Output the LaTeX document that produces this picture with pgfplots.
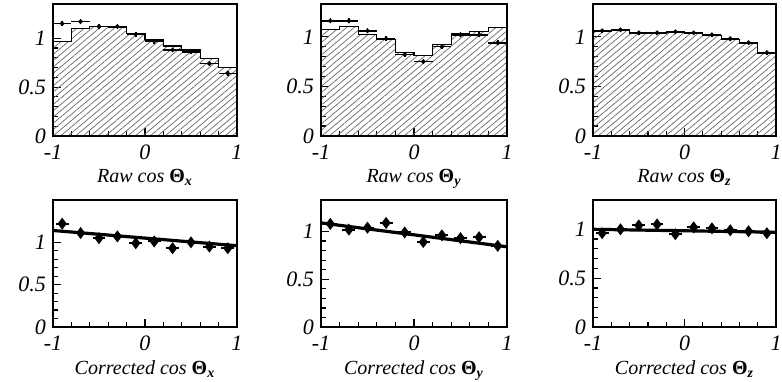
\documentclass[border=0pt]{standalone}
\usepackage{fontspec}
\setmainfont{Liberation Serif}
\usepackage{pgfplots}
\pgfplotsset{compat=1.18}
\usetikzlibrary{patterns,patterns.meta}
\pgfplotsset{
  panel/.style={
    scale only axis, anchor=south west,
    xmin=-1, xmax=1, ymin=0,
    xtick={-1,0,1}, xticklabels={-1,0,1},
    ytick={0,0.5,1}, yticklabels={0,0.5,1},
    minor x tick num=4, minor y tick num=4,
    tick align=inside, xtick pos=bottom, ytick pos=left,
    major tick length=4pt, minor tick length=2.5pt,
    tick style={black, line width=0.6pt},
    axis line style={line width=0.9pt},
    ticklabel style={font=\fontsize{11}{12}\selectfont\itshape},
    xticklabel style={yshift=-1pt},
    /pgf/number format/assume math mode=true,
    xlabel style={font=\itshape, yshift=2pt},
    clip=true,
  },
  hist/.style={const plot, draw=black, line width=0.6pt,
    pattern={Lines[angle=40, distance=2.4pt, line width=0.35pt]}, pattern color=black!60},
  rawpts/.style={only marks, mark=*, mark size=0.7pt, black, line width=0.8pt,
    error bars/.cd, x dir=both, x explicit, y dir=both, y explicit,
    error bar style={line width=0.8pt}, error mark=none},
  fitline/.style={black, line width=1.6pt},
  corpts/.style={only marks, mark=diamond*, mark size=2.2pt, black, line width=1pt,
    error bars/.cd, x dir=both, x explicit, y dir=both, y explicit,
    error bar style={line width=1pt}, error mark=none},
}
\newcommand{\Th}[1]{{\upshape\bfseries Θ}\textsubscript{\bfseries\itshape #1}}
\begin{document}
\begin{tikzpicture}
\useasboundingbox (0,0) rectangle (391pt,190.5pt);
% ---------- Top row ----------
\begin{axis}[panel, at={(26.5pt,122.5pt)}, width=92pt, height=66pt, ymax=1.35,
  xlabel={Raw cos \Th{x}}]
\addplot[hist] coordinates {(-1,0.97) (-0.8,1.10) (-0.6,1.12) (-0.4,1.11) (-0.2,1.05) (0,0.99) (0.2,0.92) (0.4,0.88) (0.6,0.79) (0.8,0.70) (1,0.70)} \closedcycle;
\addplot[rawpts] coordinates {
 (-0.9,1.15) +- (0.1,0.025) (-0.7,1.17) +- (0.1,0.025) (-0.5,1.12) +- (0.1,0.025)
 (-0.3,1.12) +- (0.1,0.025) (-0.1,1.04) +- (0.1,0.025) (0.1,0.97) +- (0.1,0.025)
 (0.3,0.88) +- (0.1,0.025) (0.5,0.86) +- (0.1,0.025) (0.7,0.74) +- (0.1,0.025)
 (0.9,0.64) +- (0.1,0.025)};
\end{axis}
\begin{axis}[panel, at={(160.5pt,122.5pt)}, width=93pt, height=66pt, ymax=1.33,
  xlabel={Raw cos \Th{y}}]
\addplot[hist] coordinates {(-1,1.07) (-0.8,1.10) (-0.6,1.02) (-0.4,0.97) (-0.2,0.84) (0,0.81) (0.2,0.92) (0.4,1.03) (0.6,1.05) (0.8,1.09) (1,1.09)} \closedcycle;
\addplot[rawpts] coordinates {
 (-0.9,1.16) +- (0.1,0.025) (-0.7,1.16) +- (0.1,0.025) (-0.5,1.06) +- (0.1,0.025)
 (-0.3,0.98) +- (0.1,0.025) (-0.1,0.82) +- (0.1,0.025) (0.1,0.75) +- (0.1,0.025)
 (0.3,0.90) +- (0.1,0.025) (0.5,1.02) +- (0.1,0.025) (0.7,1.02) +- (0.1,0.025)
 (0.9,0.94) +- (0.1,0.025)};
\end{axis}
\begin{axis}[panel, at={(296.5pt,122.5pt)}, width=91.5pt, height=66pt, ymax=1.33,
  xlabel={Raw cos \Th{z}}]
\addplot[hist] coordinates {(-1,1.05) (-0.8,1.06) (-0.6,1.03) (-0.4,1.03) (-0.2,1.04) (0,1.03) (0.2,1.01) (0.4,0.97) (0.6,0.93) (0.8,0.83) (1,0.83)} \closedcycle;
\addplot[rawpts] coordinates {
 (-0.9,1.06) +- (0.1,0.02) (-0.7,1.07) +- (0.1,0.02) (-0.5,1.04) +- (0.1,0.02)
 (-0.3,1.04) +- (0.1,0.02) (-0.1,1.05) +- (0.1,0.02) (0.1,1.04) +- (0.1,0.02)
 (0.3,1.02) +- (0.1,0.02) (0.5,0.98) +- (0.1,0.02) (0.7,0.94) +- (0.1,0.02)
 (0.9,0.84) +- (0.1,0.02)};
\end{axis}
% ---------- Bottom row ----------
\begin{axis}[panel, at={(26.5pt,27pt)}, width=92pt, height=63.5pt, ymax=1.5,
  xlabel={Corrected cos \Th{x}}]
\addplot[fitline] coordinates {(-1,1.14) (1,0.96)};
\addplot[corpts] coordinates {
 (-0.9,1.22) +- (0.07,0.03) (-0.7,1.11) +- (0.07,0.03) (-0.5,1.05) +- (0.07,0.03)
 (-0.3,1.07) +- (0.07,0.03) (-0.1,0.99) +- (0.07,0.03) (0.1,1.01) +- (0.07,0.03)
 (0.3,0.93) +- (0.07,0.03) (0.5,1.00) +- (0.07,0.03) (0.7,0.95) +- (0.07,0.03)
 (0.9,0.93) +- (0.07,0.03)};
\end{axis}
\begin{axis}[panel, at={(160.5pt,27pt)}, width=93pt, height=63.5pt, ymax=1.33,
  xlabel={Corrected cos \Th{y}}]
\addplot[fitline] coordinates {(-1,1.09) (1,0.84)};
\addplot[corpts] coordinates {
 (-0.9,1.08) +- (0.07,0.03) (-0.7,1.02) +- (0.07,0.03) (-0.5,1.04) +- (0.07,0.03)
 (-0.3,1.09) +- (0.07,0.03) (-0.1,0.99) +- (0.07,0.03) (0.1,0.89) +- (0.07,0.03)
 (0.3,0.96) +- (0.07,0.03) (0.5,0.93) +- (0.07,0.03) (0.7,0.94) +- (0.07,0.03)
 (0.9,0.85) +- (0.07,0.03)};
\end{axis}
\begin{axis}[panel, at={(296.5pt,27pt)}, width=91.5pt, height=63.5pt, ymax=1.30,
  xlabel={Corrected cos \Th{z}}]
\addplot[fitline] coordinates {(-1,1.00) (1,0.97)};
\addplot[corpts] coordinates {
 (-0.9,0.96) +- (0.07,0.03) (-0.7,1.00) +- (0.07,0.03) (-0.5,1.04) +- (0.07,0.03)
 (-0.3,1.05) +- (0.07,0.03) (-0.1,0.95) +- (0.07,0.03) (0.1,1.02) +- (0.07,0.03)
 (0.3,1.01) +- (0.07,0.03) (0.5,0.99) +- (0.07,0.03) (0.7,0.98) +- (0.07,0.03)
 (0.9,0.96) +- (0.07,0.03)};
\end{axis}
\end{tikzpicture}
\end{document}
